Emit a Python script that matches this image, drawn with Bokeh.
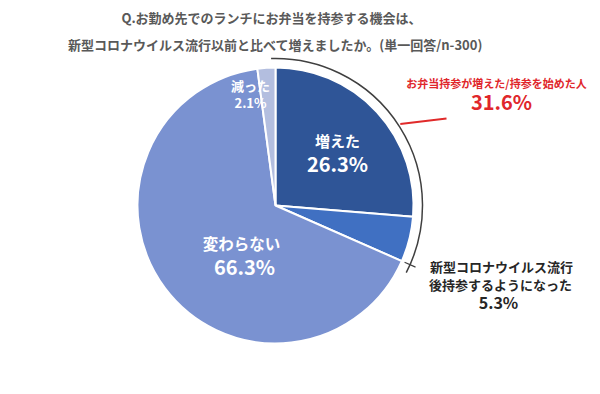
import math
from bokeh.plotting import figure
from bokeh.models import ColumnDataSource, Range1d
from bokeh.core.properties import value
from bokeh.embed import file_html
from bokeh.resources import INLINE

# ---- data ----
categories = ["増えた", "新型コロナウイルス流行後持参するようになった", "変わらない", "減った"]
shares = [26.3, 5.3, 66.3, 2.1]
colors = ["#2F5597", "#4070C2", "#7A92D1", "#B3BEDF"]
group_label = "お弁当持参が増えた/持参を始めた人"
group_share = 31.6
title_lines = ["Q.お勤め先でのランチにお弁当を持参する機会は、",
               "新型コロナウイルス流行以前と比べて増えましたか。(単一回答/n-300)"]

W, H = 592, 386
FONT = value("Noto Sans CJK JP")

def X(rx):
    return rx

def Y(ry):
    return H - ry

p = figure(width=W, height=H, output_backend="svg", toolbar_location=None,
           x_range=Range1d(0, W), y_range=Range1d(0, H), min_border=0)
p.axis.visible = False
p.grid.visible = False
p.outline_line_color = None
p.background_fill_color = "white"
p.border_fill_color = "white"

cx, cy, r = X(275), Y(205), 138

total = sum(shares)
starts, ends = [], []
cum = 0.0
for s in shares:
    starts.append(math.pi / 2 - 2 * math.pi * cum / total)
    cum += s
    ends.append(math.pi / 2 - 2 * math.pi * cum / total)

src = ColumnDataSource(dict(x=[cx] * len(shares), y=[cy] * len(shares),
                            start=starts, end=ends, color=colors))
p.wedge(x="x", y="y", radius=r, start_angle="start", end_angle="end",
        direction="clock", fill_color="color", line_color="white",
        line_width=2, source=src)

# outer bracket arc for the combined group
ra = 147
g_end = math.pi / 2 - 2 * math.pi * group_share / 100
p.arc(x=[cx], y=[cy], radius=ra, start_angle=math.pi / 2 + 0.03,
      end_angle=g_end - 0.06, direction="clock", line_color="#404040",
      line_width=1.5)
# tick at the group boundary
tx0 = cx + (ra - 6) * math.cos(g_end)
ty0 = cy + (ra - 6) * math.sin(g_end)
tx1 = cx + (ra + 6) * math.cos(g_end)
ty1 = cy + (ra + 6) * math.sin(g_end)
p.line([tx0, tx1], [ty0, ty1], line_color="#404040", line_width=1.2)

# red leader line from arc midpoint
g_mid = math.pi / 2 - 2 * math.pi * group_share / 200
lx = cx + (ra + 2) * math.cos(g_mid)
ly = cy + (ra + 2) * math.sin(g_mid)
p.line([lx, X(446)], [ly, Y(118)], line_color="#E02A2A", line_width=2)

# title
p.text(x=[X(271), X(275)], y=[Y(17), Y(44)], text=title_lines,
       text_font=FONT, text_font_style="bold", text_font_size="13px",
       text_color="#595959", text_align="center", text_baseline="middle")

# red group label
p.text(x=[X(496)], y=[Y(82)], text=[group_label], text_font=FONT,
       text_font_style="bold", text_font_size="11px", text_color="#E0262B",
       text_align="center", text_baseline="middle")
p.text(x=[X(501)], y=[Y(101)], text=[f"{group_share}%"], text_font=FONT,
       text_font_style="bold", text_font_size="20px", text_color="#E0262B",
       text_align="center", text_baseline="middle")

# slice labels (inside)
p.text(x=[X(337), X(337)], y=[Y(140), Y(163)],
       text=[categories[0], f"{shares[0]}%"], text_font=FONT,
       text_font_style="bold", text_font_size=["15px", "20px"],
       text_color="white", text_align="center", text_baseline="middle")
p.text(x=[X(241), X(244)], y=[Y(242), Y(266)],
       text=[categories[2], f"{shares[2]}%"], text_font=FONT,
       text_font_style="bold", text_font_size=["15.5px", "20px"],
       text_color="white", text_align="center", text_baseline="middle")
p.text(x=[X(250), X(250)], y=[Y(85), Y(102)],
       text=[categories[3], f"{shares[3]}%"], text_font=FONT,
       text_font_style="bold", text_font_size=["13px", "13px"],
       text_color="white", text_align="center", text_baseline="middle")

# outside label for slice 2
p.text(x=[X(501), X(500)], y=[Y(266), Y(284)],
       text=["新型コロナウイルス流行", "後持参するようになった"], text_font=FONT,
       text_font_style="bold", text_font_size="13px", text_color="#262626",
       text_align="center", text_baseline="middle")
p.text(x=[X(498)], y=[Y(301)], text=[f"{shares[1]}%"], text_font=FONT,
       text_font_style="bold", text_font_size="16px", text_color="#262626",
       text_align="center", text_baseline="middle")

open("out.html", "w").write(file_html(p, INLINE))
